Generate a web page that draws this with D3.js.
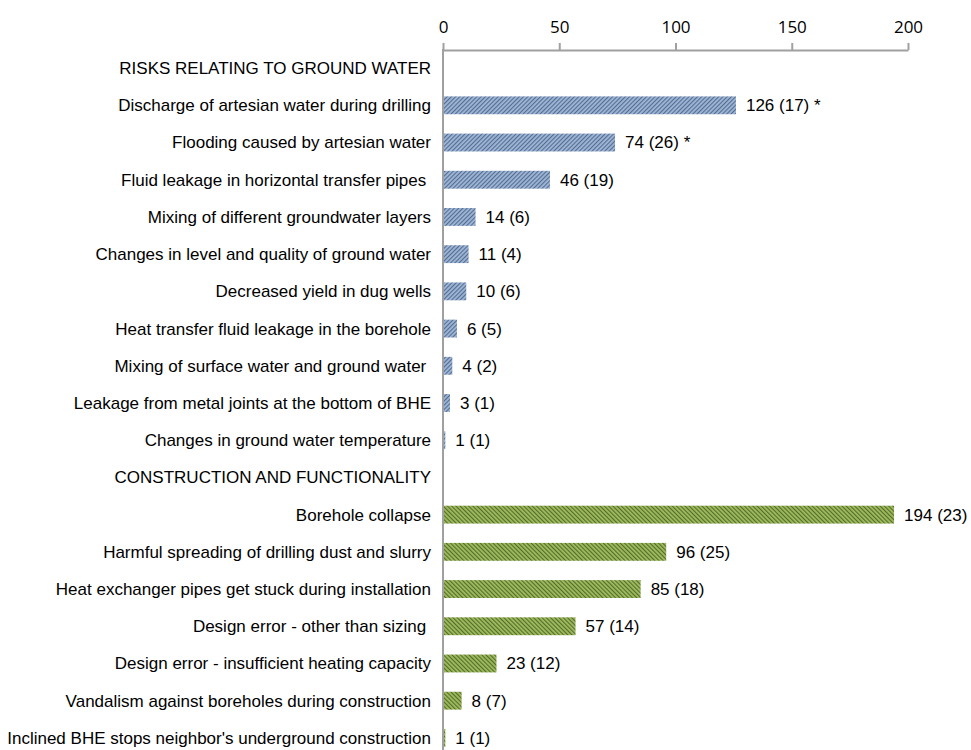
<!DOCTYPE html>
<html>
<head>
<meta charset="utf-8">
<script src="https://cdn.jsdelivr.net/npm/d3@7"></script>
<style>
  body { margin: 0; background: #fff; }
  text { font-family: "Liberation Sans", Arial, sans-serif; fill: #000; white-space: pre; }
</style>
</head>
<body>
<svg id="chart" width="971" height="750"></svg>
<script>
// rows top to bottom; headers have no value
var categories = [
    "RISKS RELATING TO GROUND WATER",
    "Discharge of artesian water during drilling",
    "Flooding caused by artesian water",
    "Fluid leakage in horizontal transfer pipes ",
    "Mixing of different groundwater layers",
    "Changes in level and quality of ground water",
    "Decreased yield in dug wells",
    "Heat transfer fluid leakage in the borehole",
    "Mixing of surface water and ground water ",
    "Leakage from metal joints at the bottom of BHE",
    "Changes in ground water temperature",
    "CONSTRUCTION AND FUNCTIONALITY",
    "Borehole collapse",
    "Harmful spreading of drilling dust and slurry",
    "Heat exchanger pipes get stuck during installation",
    "Design error - other than sizing ",
    "Design error - insufficient heating capacity",
    "Vandalism against boreholes during construction",
    "Inclined BHE stops neighbor's underground construction"
];
var values = [null, 126, 74, 46, 14, 11, 10, 6, 4, 3, 1, null, 194, 96, 85, 57, 23, 8, 1];
var counts = [null, 17, 26, 19, 6, 4, 6, 5, 2, 1, 1, null, 23, 25, 18, 14, 12, 7, 1];
var notes  = ["", " *", " *", "", "", "", "", "", "", "", "", "", "", "", "", "", "", "", ""];
var groups = ["gw","gw","gw","gw","gw","gw","gw","gw","gw","gw","gw","con","con","con","con","con","con","con","con"];
var xTicks = [0, 50, 100, 150, 200];

var svg = d3.select("#chart");
var defs = svg.append("defs");

function stripes(id, light, dark, angle) {
    var p = defs.append("pattern")
            .attr("id", id)
            .attr("patternUnits", "userSpaceOnUse")
            .attr("width", 3)
            .attr("height", 3)
            .attr("patternTransform", "rotate(" + angle + ")");
    p.append("rect").attr("width", 3).attr("height", 3).attr("fill", light);
    p.append("rect").attr("width", 1.1).attr("height", 3).attr("fill", dark);
}
stripes("hatch-gw", "#9bb7db", "#5a6b88", 45);
stripes("hatch-con", "#9dbd5b", "#56692e", -45);

var x = d3.scaleLinear().domain([0, 200]).range([443, 908]);
var y = d3.scaleBand().domain(d3.range(categories.length)).range([49.5, 756.5]).paddingInner(0.52).paddingOuter(0.26);

// top axis
var axis = svg.append("g")
        .attr("transform", "translate(0,50)")
        .call(d3.axisTop(x).tickValues(xTicks).tickSize(7).tickSizeOuter(0).tickPadding(10));
axis.select(".domain").attr("stroke", "#a0a0a0").attr("stroke-width", 2);
axis.selectAll(".tick line").attr("stroke", "#a0a0a0").attr("stroke-width", 2);
axis.selectAll(".tick text")
        .style("font-family", "'Open Sans', 'Liberation Sans', sans-serif")
        .style("font-size", "17px")
        .attr("fill", "#000");

// bars
var rows = svg.append("g").selectAll("g")
        .data(d3.range(categories.length))
        .enter();

rows.filter(function(i){ return values[i] !== null; })
    .append("rect")
        .attr("x", x(0))
        .attr("y", function(i){ return y(i); })
        .attr("width", function(i){ return x(values[i]) - x(0); })
        .attr("height", y.bandwidth())
        .attr("fill", function(i){ return "url(#hatch-" + groups[i] + ")"; });

// category labels
svg.append("g").selectAll("text")
        .data(d3.range(categories.length))
        .enter().append("text")
        .attr("x", 431)
        .attr("y", function(i){ return y(i) + y.bandwidth() / 2; })
        .attr("dy", "0.35em")
        .attr("text-anchor", "end")
        .style("font-size", "17px")
        .text(function(i){ return categories[i]; });

// value labels
svg.append("g").selectAll("text")
        .data(d3.range(categories.length).filter(function(i){ return values[i] !== null; }))
        .enter().append("text")
        .attr("x", function(i){ return x(values[i]) + 10; })
        .attr("y", function(i){ return y(i) + y.bandwidth() / 2; })
        .attr("dy", "0.35em")
        .style("font-size", "17px")
        .text(function(i){ return values[i] + " (" + counts[i] + ")" + notes[i]; });

// vertical category axis line
svg.append("line")
        .attr("x1", x(0)).attr("x2", x(0))
        .attr("y1", 49).attr("y2", 750)
        .attr("stroke", "#a0a0a0")
        .attr("stroke-width", 2);
</script>
</body>
</html>
